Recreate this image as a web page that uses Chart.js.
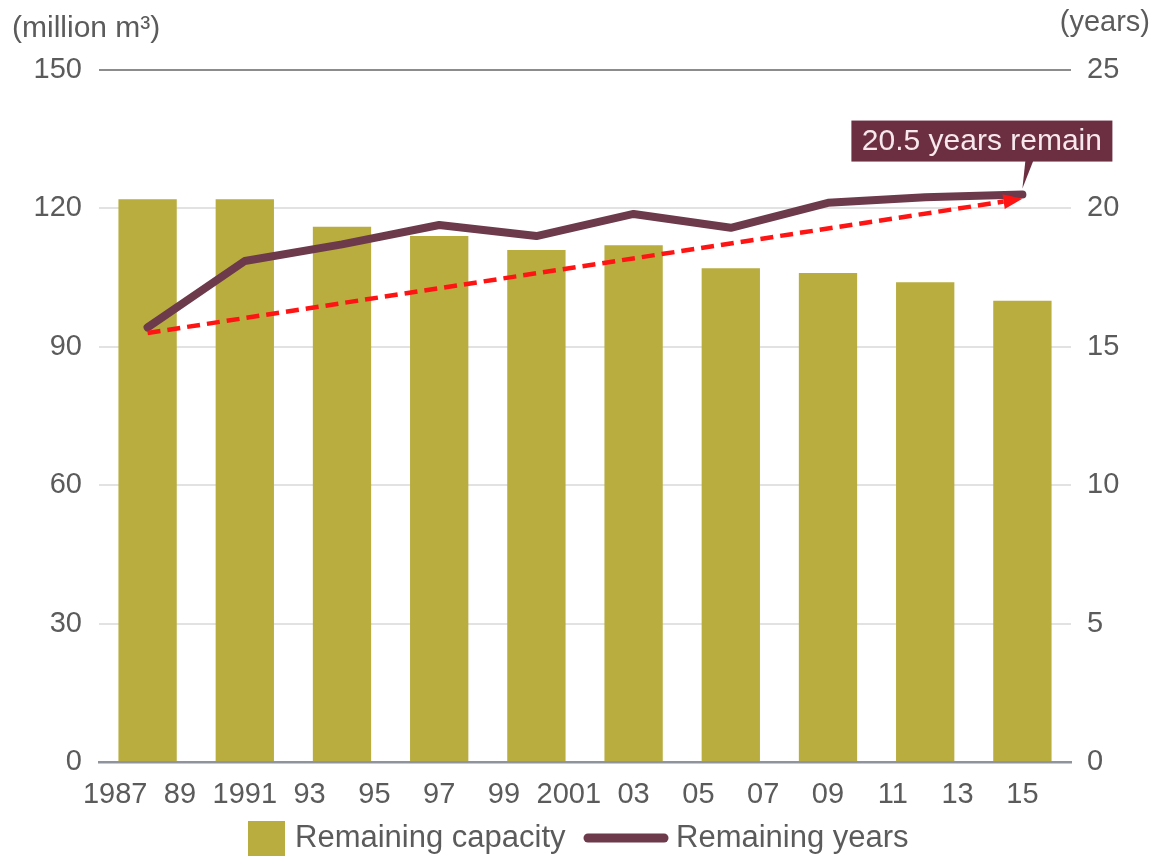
<!DOCTYPE html>
<html>
<head>
<meta charset="utf-8">
<script src="https://cdn.jsdelivr.net/npm/chart.js@4.4.1/dist/chart.umd.min.js"></script>
<style>
html,body{margin:0;padding:0;background:#ffffff;overflow:hidden}
#wrap{width:1153px;height:856px;position:relative}
canvas{display:block}
</style>
</head>
<body>
<div id="wrap"><canvas id="c" width="1153" height="856"></canvas></div>
<script>
// ---------- data ----------
const barYears = [1988, 1991, 1994, 1997, 2000, 2003, 2006, 2009, 2012, 2015];
const remainingCapacity = [122, 122, 116, 114, 111, 112, 107, 106, 104, 100];   // million m3
const remainingYears = [15.7, 18.1, 18.7, 19.4, 19.0, 19.8, 19.3, 20.2, 20.4, 20.5]; // years
const tickYears = [1987, 1989, 1991, 1993, 1995, 1997, 1999, 2001, 2003, 2005, 2007, 2009, 2011, 2013, 2015];
const tickLabels = ['1987', '89', '1991', '93', '95', '97', '99', '2001', '03', '05', '07', '09', '11', '13', '15'];
const capacityTicks = [0, 30, 60, 90, 120, 150];
const yearsTicks = [0, 5, 10, 15, 20, 25];
const trendFrom = [1988, 15.5];
const trendTo = [2015, 20.35];
const seriesNames = ['Remaining capacity', 'Remaining years'];
const unitLeft = '(million m\u00B3)';
const unitRight = '(years)';
const calloutText = '20.5 years remain';

// ---------- styles ----------
const FONT = '"Liberation Sans", Arial, Helvetica, sans-serif';
const TEXT = '#5b5b5b';
const OLIVE = '#b9ad40';
const MAROON = '#6d3a4b';
const BOX = '#6c2f42';
const RED = '#ff1414';

const overlay = {
  id: 'overlay',
  afterDatasetsDraw(chart) {
    const ctx = chart.ctx;
    const xs = chart.scales.x, ys = chart.scales.y1;
    // dashed trend arrow
    const x0 = xs.getPixelForValue(trendFrom[0]), y0 = ys.getPixelForValue(trendFrom[1]);
    const xe = xs.getPixelForValue(trendTo[0]), ye = ys.getPixelForValue(trendTo[1]);
    const a = Math.atan2(ye - y0, xe - x0), c = Math.cos(a), s = Math.sin(a);
    const head = 19, hw = 7.5;
    const bx = xe - head * c, by = ye - head * s;
    ctx.save();
    ctx.strokeStyle = RED; ctx.lineWidth = 4.5; ctx.setLineDash([13, 7]);
    ctx.beginPath(); ctx.moveTo(x0, y0); ctx.lineTo(bx, by); ctx.stroke();
    ctx.setLineDash([]);
    ctx.fillStyle = RED;
    ctx.beginPath(); ctx.moveTo(xe, ye);
    ctx.lineTo(bx + hw * s, by - hw * c); ctx.lineTo(bx - hw * s, by + hw * c);
    ctx.closePath(); ctx.fill();

    // callout box anchored on the last point of the line
    const pts = chart.getDatasetMeta(1).data;
    const p = pts[pts.length - 1];
    const L = p.x - 171, R = p.x + 90, T = p.y - 74, B = p.y - 33;
    ctx.fillStyle = BOX;
    ctx.fillRect(L, T, R - L, B - T);
    ctx.beginPath();
    ctx.moveTo(p.x + 3, B - 1); ctx.lineTo(p.x + 11, B - 1); ctx.lineTo(p.x, p.y - 6);
    ctx.closePath(); ctx.fill();
    ctx.fillStyle = '#f6e8ec';
    ctx.font = '30px ' + FONT;
    ctx.textAlign = 'center'; ctx.textBaseline = 'middle';
    ctx.fillText(calloutText, (L + R) / 2, (T + B) / 2 + 1);
    ctx.restore();
  },
  afterDraw(chart) {
    const ctx = chart.ctx;
    ctx.save();
    ctx.fillStyle = TEXT;
    ctx.font = '30px ' + FONT;
    ctx.textBaseline = 'middle';
    ctx.textAlign = 'left';
    ctx.fillText(unitLeft, 12, 29);
    ctx.textAlign = 'right';
    ctx.font = '29px ' + FONT;
    ctx.fillText(unitRight, chart.width - 3, 23);

    // legend
    const ly = 838;
    ctx.fillStyle = OLIVE;
    ctx.fillRect(248, 821, 37, 40);
    ctx.fillStyle = TEXT;
    ctx.font = '31px ' + FONT;
    ctx.textAlign = 'left'; ctx.textBaseline = 'alphabetic';
    ctx.fillText(seriesNames[0], 295, 847);
    ctx.strokeStyle = MAROON; ctx.lineWidth = 9; ctx.lineCap = 'round';
    ctx.beginPath(); ctx.moveTo(588, ly); ctx.lineTo(664, ly); ctx.stroke();
    ctx.fillText(seriesNames[1], 676, 847);
    ctx.restore();
  }
};

const tickFont = {family: FONT, size: 29};

new Chart(document.getElementById('c'), {
  type: 'bar',
  data: {
    datasets: [
      {
        type: 'bar',
        label: seriesNames[0],
        data: barYears.map((x, i) => ({x: x, y: remainingCapacity[i]})),
        backgroundColor: OLIVE,
        borderWidth: 0,
        barPercentage: 0.9,
        categoryPercentage: 1.0,
        xAxisID: 'x', yAxisID: 'y',
        order: 2
      },
      {
        type: 'line',
        label: seriesNames[1],
        data: barYears.map((x, i) => ({x: x, y: remainingYears[i]})),
        borderColor: MAROON,
        borderWidth: 8,
        pointRadius: 0,
        tension: 0,
        borderJoinStyle: 'round',
        borderCapStyle: 'round',
        fill: false,
        xAxisID: 'x', yAxisID: 'y1',
        order: 1
      }
    ]
  },
  options: {
    responsive: false,
    animation: false,
    devicePixelRatio: 1,
    layout: {padding: {top: 70, left: 0, right: 0, bottom: 0}},
    plugins: {legend: {display: false}, tooltip: {enabled: false}},
    scales: {
      x: {
        type: 'linear', position: 'bottom',
        min: 1986.5, max: 2016.5, offset: false,
        afterBuildTicks: (s) => { s.ticks = tickYears.map(v => ({value: v})); },
        afterFit: (s) => { s.height = 94; },
        ticks: {
          callback: (v, i) => tickLabels[i],
          font: tickFont, color: TEXT, padding: 16,
          autoSkip: false, maxRotation: 0, minRotation: 0
        },
        grid: {display: false, drawTicks: false, offset: false},
        border: {display: true, color: '#8f939b', width: 2.5}
      },
      y: {
        type: 'linear', position: 'left',
        min: 0, max: 150,
        afterBuildTicks: (s) => { s.ticks = capacityTicks.map(v => ({value: v})); },
        afterFit: (s) => { s.width = 99; },
        ticks: {font: tickFont, color: TEXT, padding: 17},
        grid: {
          drawTicks: false,
          lineWidth: 2,
          color: (ctx) => ctx.tick && ctx.tick.value === 150 ? '#8c8c8c' : (ctx.tick && ctx.tick.value === 0 ? '#8f939b' : '#e2e2e2')
        },
        border: {display: false}
      },
      y1: {
        type: 'linear', position: 'right',
        min: 0, max: 25,
        afterBuildTicks: (s) => { s.ticks = yearsTicks.map(v => ({value: v})); },
        afterFit: (s) => { s.width = 82; },
        ticks: {font: tickFont, color: TEXT, padding: 16},
        grid: {drawOnChartArea: false, drawTicks: false},
        border: {display: false}
      }
    }
  },
  plugins: [overlay]
});
</script>
</body>
</html>
